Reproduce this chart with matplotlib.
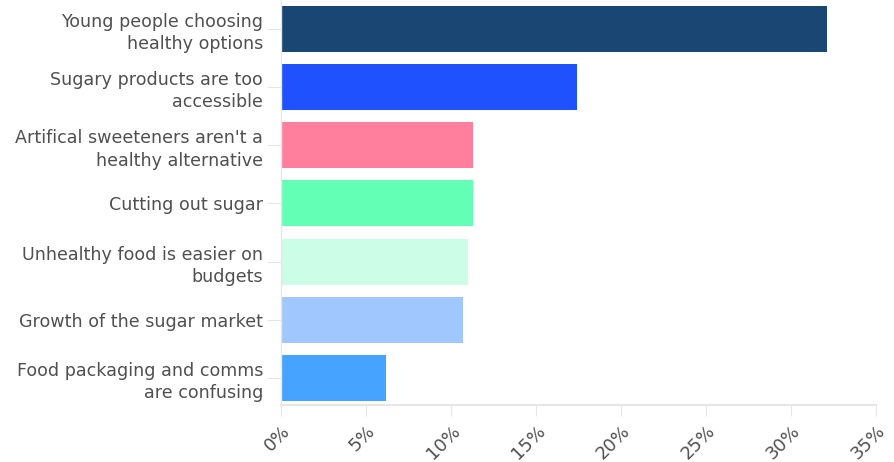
import matplotlib.pyplot as plt
from matplotlib.ticker import PercentFormatter

labels = ["Young people choosing\nhealthy options",
          "Sugary products are too\naccessible",
          "Artifical sweeteners aren't a\nhealthy alternative",
          "Cutting out sugar",
          "Unhealthy food is easier on\nbudgets",
          "Growth of the sugar market",
          "Food packaging and comms\nare confusing"]
values = [32.1, 17.4, 11.3, 11.3, 11.0, 10.7, 6.2]
colors = ["#1a4674", "#1f51fe", "#ff7f9c", "#63ffb4", "#ccfde6", "#a0c8ff", "#46a3ff"]

plt.rcParams['font.family'] = ['DejaVu Sans']

fig = plt.figure(figsize=(8.94, 4.62), dpi=100)
ax = fig.add_axes([0.3143, 0.123, 0.6657, 0.877])

y = range(len(values))
ax.barh(y, values, height=0.79, color=colors)
ax.set_yticks(list(y))
ax.set_yticklabels(labels, fontsize=12.6, color="#505050", linespacing=1.3)
ax.set_ylim(6.47, -0.5)

ax.set_xlim(0, 35)
ax.set_xticks(range(0, 36, 5))
ax.xaxis.set_major_formatter(PercentFormatter(decimals=0))
for t in ax.get_xticklabels():
    t.set_rotation(45)
    t.set_ha("right")
    t.set_rotation_mode("anchor")
    t.set_fontsize(13)
    t.set_color("#505050")

for s in ["top", "right"]:
    ax.spines[s].set_visible(False)
ax.spines["left"].set_color("#e6e6e6")
ax.spines["bottom"].set_color("#e6e6e6")
ax.spines["left"].set_linewidth(1)
ax.spines["bottom"].set_linewidth(1.5)
ax.tick_params(axis="y", length=10, color="#e6e6e6", pad=3)
ax.tick_params(axis="x", length=8, color="#e6e6e6", pad=4)

fig.savefig("out.png", dpi=100)
